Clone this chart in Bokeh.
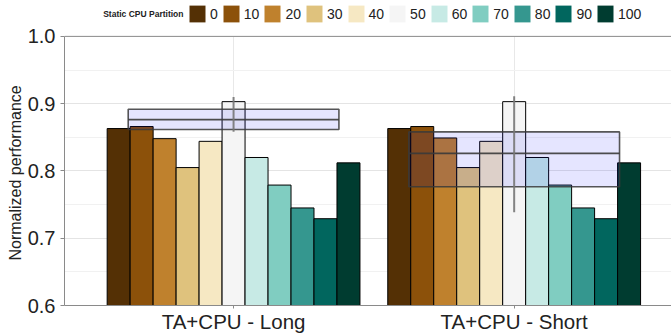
from bokeh.plotting import figure
from bokeh.models import (FixedTicker, Legend, LegendItem, Label, Span, Range1d,
                          BoxAnnotation, Title)
from bokeh.embed import file_html
from bokeh.resources import INLINE

# ---------------- data ----------------
groups = ["TA+CPU - Long", "TA+CPU - Short"]
partitions = ["0", "10", "20", "30", "40", "50", "60", "70", "80", "90", "100"]
colors = ["#543005", "#8c510a", "#bf812d", "#dfc27d", "#f6e8c3", "#f5f5f5",
          "#c7eae5", "#80cdc1", "#35978f", "#01665e", "#003c30"]
long_vals = [0.863, 0.866, 0.848, 0.805, 0.844, 0.903, 0.820, 0.779, 0.745, 0.729, 0.812]
short_vals = [0.863, 0.866, 0.849, 0.805, 0.844, 0.903, 0.820, 0.779, 0.745, 0.729, 0.812]
box_q1 = [0.8615, 0.7765]
box_med = [0.8763, 0.8260]
box_q3 = [0.8916, 0.8580]
whisk_lo = [0.8584, 0.7385]
whisk_hi = [0.9100, 0.9110]
y_ticks = [0.6, 0.7, 0.8, 0.9, 1.0]
y_minor = [0.65, 0.75, 0.85, 0.95]

FONT = "Liberation Sans"
bar_w = 0.0819
box_w = 0.751
group_pos = list(range(len(groups)))
y_lo, y_hi = 0.6, 1.0
top_room = 36 / 675.0   # space above the 1.0 line kept inside the frame for the legend

p = figure(width=671, height=335, x_range=Range1d(-0.6025, 1.5607),
           y_range=Range1d(y_lo, y_hi + top_room), output_backend="svg",
           toolbar_location=None, min_border_left=64, min_border_right=0,
           min_border_top=0, min_border_bottom=29, title=None)
p.outline_line_color = None
p.background_fill_color = "white"

# grid
p.ygrid.ticker = FixedTicker(ticks=y_ticks, minor_ticks=y_minor)
p.ygrid.grid_line_color = "#e4e4e4"
p.ygrid.minor_grid_line_color = "#f1f1f1"
p.xgrid.ticker = FixedTicker(ticks=group_pos)
p.xgrid.grid_line_color = "#e8e8e8"
# white cover above the 1.0 line (hides grid lines in the legend strip)
p.add_layout(BoxAnnotation(bottom=y_hi, fill_color="white", fill_alpha=1.0,
                           line_color=None, level="underlay"))

# bars (fill, then black outline)
series = [long_vals, short_vals]
legend_items = []
for i, (part, col) in enumerate(zip(partitions, colors)):
    xs = [g + (i - 5) * bar_w for g in group_pos]
    tops = [series[g][i] for g in group_pos]
    r = p.vbar(x=xs, top=tops, bottom=y_lo, width=bar_w, fill_color=col, line_color=None)
    p.vbar(x=xs, top=tops, bottom=y_lo, width=bar_w, fill_color=None,
           line_color="black", line_width=1)
    legend_items.append(LegendItem(label=part, renderers=[r]))

# box overlay
p.quad(left=[g - box_w / 2 for g in group_pos], right=[g + box_w / 2 for g in group_pos],
       bottom=box_q1, top=box_q3, fill_color="blue", fill_alpha=0.1,
       line_color="#3a3a3a", line_alpha=0.85, line_width=1.6)
p.segment(x0=[g - box_w / 2 for g in group_pos], x1=[g + box_w / 2 for g in group_pos],
          y0=box_med, y1=box_med, line_color="#3a3a3a", line_alpha=0.9, line_width=1.8)
p.segment(x0=group_pos, x1=group_pos, y0=whisk_lo, y1=whisk_hi,
          line_color="#777777", line_alpha=0.9, line_width=2)

# top border line at 1.0
p.add_layout(Span(location=y_hi, dimension="width", line_color="#8a8a8a", line_width=1))

# axes
p.yaxis.bounds = (y_lo, y_hi)
p.yaxis.ticker = FixedTicker(ticks=y_ticks)
p.yaxis.major_label_overrides = {t: f"{t:.1f}" for t in y_ticks}
p.yaxis.major_label_text_font = FONT
p.yaxis.major_label_text_font_size = "20px"
p.yaxis.major_label_text_color = "#222222"
p.yaxis.major_label_standoff = 5
p.yaxis.major_tick_out = 4
p.yaxis.major_tick_in = 0
p.yaxis.minor_tick_line_color = None
p.yaxis.axis_line_color = "#8a8a8a"
p.yaxis.major_tick_line_color = "#8a8a8a"

# y-axis title, centred on the 0.6..1.0 span
p.add_layout(Title(text="Normalized performance", align="left", offset=45,
                   vertical_align="middle", standoff=0, text_font=FONT,
                   text_font_size="16px", text_font_style="normal",
                   text_color="#222222"), "left")

p.xaxis.ticker = FixedTicker(ticks=group_pos)
p.xaxis.major_label_overrides = {g: name for g, name in zip(group_pos, groups)}
p.xaxis.major_label_text_font = FONT
p.xaxis.major_label_text_font_size = "20.5px"
p.xaxis.major_label_text_color = "#222222"
p.xaxis.major_label_standoff = 1
p.xaxis.major_tick_out = 3
p.xaxis.major_tick_in = 0
p.xaxis.minor_tick_line_color = None
p.xaxis.axis_line_color = "#8a8a8a"
p.xaxis.major_tick_line_color = "#8a8a8a"

# legend
legend = Legend(items=legend_items, orientation="horizontal", location=(123, 281),
                glyph_width=20, glyph_height=21, label_height=21, label_width=0,
                label_standoff=3, spacing=3, padding=0, margin=0,
                border_line_color=None, background_fill_alpha=0,
                label_text_font=FONT, label_text_font_size="14px",
                label_text_color="#222222")
p.add_layout(legend)
p.add_layout(Label(x=38.7, y=291.7, x_units="screen", y_units="screen",
                   text="Static CPU Partition", text_font=FONT, text_font_size="8.5px",
                   text_font_style="bold", text_baseline="middle", text_color="#222222"))

open("out.html", "w").write(file_html(p, INLINE))
